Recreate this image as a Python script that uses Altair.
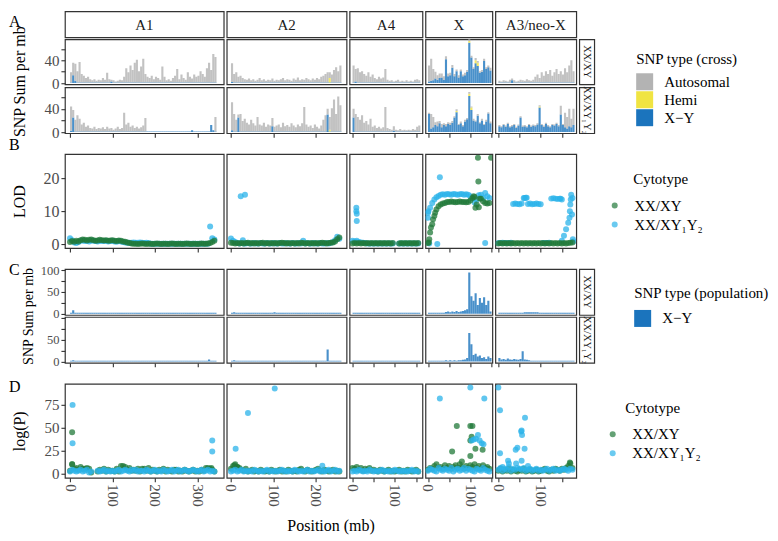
import altair as alt
import pandas as pd

FONT = "Liberation Serif"
CHROMS = ["A1", "A2", "A4", "X", "A3/neo-X"]
CYTOTYPES = ["XX/XY", "XX/XY₁Y₂"]
SNP_TYPES = ["Autosomal", "Hemi", "X−Y"]
SNP_COLORS = ["#b3b3b3", "#f0e442", "#1b74bd"]
CYTO_COLORS = ["#22793a", "#2bb3ea"]
BIN_MB = 5

X_DOMAIN = {"A1": [-12, 362], "A2": [-10, 272], "A4": [-7, 165], "X": [-6, 152], "A3/neo-X": [-7, 184]}
X_TICKS = {"A1": [0, 100, 200, 300], "A2": [0, 100, 200], "A4": [0, 50, 100, 150],
           "X": [0, 50, 100, 150], "A3/neo-X": [0, 50, 100, 150]}
PANEL_W = {"A1": 159, "A2": 120, "A4": 73, "X": 67, "A3/neo-X": 81}

# ---------------- A: SNP sum per mb (cross), 5-mb bins ----------------
A_AUTO_XY = {
    "A1": [18, 22, 30, 20, 36, 15, 12, 8, 10, 6, 4, 6, 3, 5, 4, 8, 5, 17, 6, 3, 4, 2, 3, 5, 4, 10, 25, 18, 30, 22,
           35, 40, 20, 28, 42, 15, 10, 8, 12, 6, 10, 8, 5, 28, 10, 4, 6, 3, 8, 12, 24, 6, 14, 8, 5, 18, 10, 7, 14, 10,
           12, 20, 15, 10, 25, 35, 22, 50, 45],
    "A2": [33, 15, 18, 10, 12, 8, 6, 5, 7, 4, 6, 3, 5, 8, 4, 6, 3, 5, 4, 7, 3, 5, 4, 6, 8, 4, 6, 5, 3, 7,
           5, 9, 4, 6, 5, 8, 6, 4, 7, 5, 8, 6, 10, 12, 15, 18, 10, 14, 22, 27, 20, 30],
    "A4": [30, 22, 25, 18, 20, 15, 12, 18, 10, 14, 8, 6, 10, 7, 9, 24, 5, 3, 4, 2, 3, 5, 2, 3, 2, 4, 2, 3, 2, 5, 6, 4],
    "X": [28, 39, 20, 12, 8, 8, 7, 6, 5, 5, 4, 5, 4, 3, 4, 3, 3, 4, 3, 4, 3, 3, 4, 3, 3, 3, 4, 3, 3, 5],
    "A3/neo-X": [3, 2, 4, 3, 2, 5, 3, 4, 2, 3, 5, 4, 3, 6, 4, 3, 5, 10, 14, 8, 18, 12, 20, 15, 22, 12, 18, 24, 15, 20,
                 14, 25, 18, 30, 39, 20],
}
A_XY_XY = {
    "A1": [1, 14, 4, 1, 1, 1, 1, 1, 1, 1, 1, 1, 1, 1, 1, 1, 1, 1, 1, 3, 1, 1, 1, 1, 1, 1, 1, 1, 1, 1,
           1, 1, 1, 1, 1, 1, 1, 1, 1, 1, 1, 1, 1, 1, 1, 1, 1, 1, 1, 1, 1, 1, 1, 1, 1, 1, 1, 1, 1, 1,
           1, 1, 1, 1, 1, 1, 1, 1, 1],
    "A2": [2, 1, 1, 1, 1, 1, 1, 1, 1, 1, 1, 1, 1, 1, 1, 1, 1, 1, 1, 1, 1, 1, 1, 1, 1, 1, 1, 1, 1, 1,
           1, 1, 1, 1, 1, 1, 1, 1, 1, 1, 1, 1, 1, 1, 1, 1, 1, 1, 1, 1, 1, 1],
    "A4": [1, 3, 1, 1, 1, 1, 1, 1, 1, 1, 1, 1, 1, 1, 1, 1, 1, 1, 1, 1, 1, 1, 1, 1, 1, 1, 1, 1, 1, 1, 1, 1],
    "X": [3, 4, 5, 8, 6, 9, 10, 6, 42, 12, 14, 27, 12, 21, 10, 21, 12, 14, 20, 71, 45, 25, 35, 30, 18, 20, 39, 25, 28, 22],
    "A3/neo-X": [1, 1, 1, 1, 1, 1, 5, 1, 1, 1, 1, 1, 1, 1, 1, 1, 1, 1, 1, 1, 1, 1, 1, 1, 1, 1, 1, 1, 1, 1,
                 1, 1, 1, 1, 1, 1],
}
A_HEMI_XY = {"A2": {46: 8}, "X": {19: 3, 22: 5, 23: 6}}

A_AUTO_Y1Y2 = {
    "A1": [42, 13, 20, 28, 22, 12, 15, 8, 10, 6, 5, 8, 4, 6, 5, 7, 4, 8, 5, 6, 3, 5, 8, 4, 6, 32, 12, 15, 8, 10,
           6, 8, 5, 7, 10, 23, 0, 0, 0, 0, 0, 0, 0, 0, 0, 0, 0, 0, 0, 0, 0, 0, 0, 0, 0, 0, 0, 0, 0, 0,
           0, 0, 0, 0, 0, 0, 0, 0, 25],
    "A2": [48, 30, 20, 5, 30, 18, 22, 15, 12, 20, 14, 10, 25, 12, 10, 15, 8, 12, 10, 14, 8, 10, 12, 7, 15, 9, 11, 8, 14, 10,
           7, 12, 9, 14, 42, 12, 8, 10, 6, 12, 8, 5, 10, 20, 28, 10, 22, 40, 55, 30, 60, 45],
    "A4": [15, 30, 25, 20, 28, 15, 18, 12, 22, 8, 10, 6, 8, 5, 7, 42, 6, 4, 3, 8, 3, 2, 4, 2, 3, 2, 3, 2, 4, 3, 8, 10],
    "X": [2, 25, 18, 5, 8, 4, 6, 3, 4, 3, 4, 3, 2, 3, 2, 3, 2, 3, 2, 3, 2, 3, 2, 3, 2, 3, 2, 3, 2, 3],
    "A3/neo-X": [2, 2, 2, 2, 2, 2, 2, 2, 2, 2, 2, 2, 2, 2, 2, 2, 2, 2, 2, 2, 2, 2, 2, 2, 2, 2, 2, 2, 2, 15,
                 2, 25, 20, 30, 15, 28],
}
A_XY_Y1Y2 = {
    "A1": [2, 25, 1, 1, 1, 1, 1, 1, 1, 1, 1, 1, 1, 1, 1, 1, 1, 1, 1, 1, 1, 1, 1, 1, 1, 1, 1, 1, 1, 1,
           1, 1, 1, 1, 1, 1, 1, 1, 1, 1, 1, 1, 1, 1, 1, 1, 1, 1, 1, 1, 1, 1, 1, 1, 1, 1, 1, 3, 1, 1,
           1, 1, 1, 1, 1, 1, 12, 3, 1],
    "A2": [3, 1, 1, 25, 1, 1, 1, 1, 1, 1, 1, 1, 1, 1, 1, 1, 1, 1, 1, 10, 1, 1, 1, 1, 1, 1, 1, 1, 1, 1,
           1, 1, 1, 1, 1, 1, 1, 1, 1, 1, 1, 1, 1, 1, 1, 30, 1, 1, 1, 1, 1, 1],
    "A4": [25, 1, 1, 1, 1, 1, 1, 1, 1, 1, 1, 1, 1, 1, 1, 1, 1, 1, 1, 2, 1, 1, 1, 1, 1, 1, 1, 1, 1, 1, 1, 1],
    "X": [31, 6, 8, 12, 10, 15, 8, 12, 10, 14, 12, 16, 25, 34, 12, 15, 10, 18, 22, 62, 38, 20, 18, 28, 15, 20, 12, 18, 32, 15],
    "A3/neo-X": [10, 8, 12, 9, 14, 8, 10, 12, 7, 11, 25, 9, 10, 8, 12, 9, 11, 10, 13, 42, 12, 9, 14, 10, 8, 12, 11, 14, 10, 30,
                 12, 8, 6, 10, 8, 12],
}
A_HEMI_Y1Y2 = {"A2": {46: 3}, "X": {13: 2, 19: 4, 20: 4}, "A3/neo-X": {19: 2}}

# ---------------- B: LOD, sampled every 5 mb, plus single markers ----------------
B_GREEN = {
    "A1": [0.6, 0.9, 0.7, 1.0, 0.8, 1.2, 1.4, 1.3, 1.1, 1.3, 1.4, 1.2, 1.0, 1.1, 1.3, 1.2, 1.1, 1.2, 1.0, 1.1,
           1.2, 1.0, 0.9, 1.1, 1.0, 0.8, 0.7, 0.5, 0.3, 0.2, 0.1, 0.1, 0.0, 0.1, 0.2, 0.1, 0.0, 0.1, 0.1, 0.0,
           0.1, 0.2, 0.1, 0.0, 0.1, 0.1, 0.0, 0.1, 0.2, 0.1, 0.0, 0.1, 0.1, 0.0, 0.1, 0.2, 0.1, 0.0, 0.1, 0.1,
           0.0, 0.1, 0.2, 0.1, 0.1, 0.2, 0.3, 0.6, 1.0],
    "A2": [0.4, 0.3, 0.2, 0.3, 0.2, 0.3, 0.2, 0.3, 0.4, 0.2, 0.3, 0.2, 0.3, 0.2, 0.3, 0.4, 0.2, 0.3, 0.2, 0.3,
           0.2, 0.3, 0.2, 0.3, 0.4, 0.3, 0.2, 0.3, 0.2, 0.3, 0.2, 0.3, 0.2, 0.4, 0.3, 0.2, 0.3, 0.2, 0.3, 0.2,
           0.3, 0.2, 0.3, 0.4, 0.3, 0.2, 0.3, 0.4, 0.5, 0.8, 1.5, 2.0],
    "A4": [0.2, 0.3, 0.2, 0.3, 0.2, 0.3, 0.2, 0.3, 0.2, 0.3, 0.2, 0.3, 0.2, 0.3, 0.2, 0.3, 0.2, 0.3, 0.2, 0.3,
           None, None, 0.2, 0.3, 0.2, 0.3, 0.2, 0.3, 0.2, 0.3, 0.2, 0.3],
    "X": [0.3, 3.5, 6.0, 8.5, 10.5, 11.5, 12.0, 12.3, 12.5, 12.8, 12.8, 12.9, 12.8, 12.7, 12.8, 12.9, 12.8, 12.8, 12.7, 12.8,
          13.2, 14.0, 14.3, 12.0, 11.2, 13.8, 13.0, 12.5, 12.3, 12.5],
    "A3/neo-X": [0.2, 0.3, 0.2, 0.3, 0.2, 0.3, 0.2, 0.3, 0.2, 0.3, 0.2, 0.3, 0.2, 0.3, 0.2, 0.3, 0.2, 0.3, 0.2, 0.3,
                 0.2, 0.3, 0.2, 0.3, 0.2, 0.3, 0.2, 0.3, 0.2, 0.3, 0.2, 0.3, 0.2, 0.3, 0.4, 0.5],
}
B_BLUE = {
    "A1": [1.8, 1.2, 0.5, 0.3, 0.6, 1.0, 1.1, 0.9, 1.0, 0.8, 1.1, 1.0, 0.9, 0.8, 1.0, 0.9, 0.9, 1.0, 0.8, 0.9,
           1.0, 0.8, 0.7, 0.9, 0.8, 0.6, 0.5, 0.4, 0.4, 0.4, 0.5, 0.4, 0.4, 0.5, 0.4, 0.3, 0.4, 0.3, 0.1, 0.1,
           0.1, 0.1, 0.1, 0.1, 0.1, 0.1, 0.1, 0.1, 0.1, 0.1, 0.1, 0.1, 0.1, 0.1, 0.1, 0.1, 0.1, 0.1, 0.1, 0.1,
           0.1, 0.1, 0.1, 0.1, 0.1, 0.1, 5.3, 1.8, 1.4],
    "A2": [1.7, 1.0, 0.6, 0.3, 0.2, 0.3, 0.2, 0.2, 0.3, 0.2, 0.2, 0.3, 0.2, 0.2, 0.3, 0.2, 0.2, 0.3, 0.2, 0.2,
           0.3, 0.2, 0.2, 0.3, 0.2, 0.2, 0.3, 0.2, 0.2, 0.3, 0.2, 0.2, 0.3, 0.2, 1.0, 0.2, 0.3, 0.2, 0.2, 0.3,
           0.2, 0.2, 0.3, 0.2, 0.2, 0.3, 0.2, 0.4, 0.6, 1.2, 2.2, 1.6],
    "A4": [1.0, 0.8, 1.0, 0.6, 0.5, 0.4, 0.3, 0.2, 0.2, 0.2, 0.2, 0.2, 0.2, 0.2, 0.2, 0.2, 0.2, 0.2, 0.2, 0.2,
           None, None, 0.2, 0.2, 0.2, 0.2, 0.2, 0.2, 0.2, 0.2, 0.2, 0.2],
    "X": [9.5, 11.0, 12.5, 13.5, 14.2, 14.6, 15.0, 15.1, 15.0, 15.2, 15.1, 15.0, 15.2, 15.1, 15.0, 15.1, 15.2, 15.0, 15.1, 15.0,
          14.5, 13.8, 12.6, 13.5, 14.8, 15.0, 14.0, 15.5, 14.5, 14.0],
    "A3/neo-X": [0.3, 0.3, 0.4, 0.3, 0.3, 0.3, 0.4, 12.2, 12.3, 12.2, 12.1, 12.3, 14.0, 14.1, 12.2, 12.3, 12.1, 12.2, 12.3, 12.2,
                 12.1, 0.3, 0.3, 0.3, 0.4, 13.8, 13.9, 13.8, 13.7, 13.8, 1.0, 2.5, 4.5, 6.5, 12.0, 14.0],
}
B_EXTRA_GREEN = {"X": [(2, 0.5), (3, 1.5), (7, 5.0), (12, 7.5), (17, 9.5), (118, 26.2), (149, 26.2), (119, 19.0),
                       (112, 11.0), (122, 13.8), (108, 14.5)]}
B_EXTRA_BLUE = {"A2": [(23, 14.5), (33, 15.0), (28, 1.2)],
                "A4": [(9, 11.0), (9, 10.0), (10, 9.2), (10, 7.0)],
                "X": [(28, 20.3), (135, 0.3), (22, 0.0), (3, 0.2), (0, 8.0), (1, 10.0)],
                "A3/neo-X": [(168, 8.0), (169, 10.0), (171, 13.5), (172, 15.0), (174, 9.0), (176, 1.5), (177, 0.8),
                             (147, 13.8), (150, 13.5), (62, 14.0), (67, 14.1)]}

# ---------------- C: SNP sum per mb (population, X−Y), 5-mb bins ----------------
C_XY_XY = {
    "A1": [2, 8, 2, 2, 2, 2, 2, 2, 2, 2, 2, 2, 2, 2, 2, 2, 2, 2, 2, 2, 2, 2, 2, 2, 2, 2, 2, 2, 2, 2,
           2, 2, 2, 2, 2, 2, 2, 2, 2, 2, 2, 2, 2, 2, 2, 2, 2, 2, 2, 2, 2, 2, 2, 2, 2, 2, 2, 2, 2, 2,
           2, 2, 2, 2, 2, 2, 2, 2, 2],
    "A2": [2, 3, 2, 2, 2, 2, 2, 2, 2, 2, 2, 2, 2, 2, 2, 2, 2, 2, 2, 2, 3, 2, 2, 2, 2, 2, 2, 2, 2, 2,
           2, 2, 2, 2, 2, 2, 2, 2, 2, 2, 2, 2, 2, 2, 2, 2, 2, 2, 2, 2, 2, 2],
    "A4": [2, 2, 2, 2, 2, 2, 2, 2, 2, 2, 2, 2, 2, 2, 2, 2, 2, 2, 2, 2, 2, 2, 2, 2, 2, 2, 2, 2, 2, 2, 2, 2],
    "X": [2, 2, 2, 2, 2, 2, 2, 2, 4, 5, 3, 5, 4, 6, 4, 5, 6, 8, 10, 95, 40, 30, 47, 20, 36, 25, 38, 20, 30, 5],
    "A3/neo-X": [2, 2, 2, 2, 2, 2, 2, 2, 2, 2, 2, 2, 3, 3, 3, 3, 3, 3, 3, 2, 2, 2, 2, 2, 2, 2, 2, 2, 2, 2,
                 2, 2, 2, 2, 2, 2],
}
C_XY_Y1Y2 = {
    "A1": [2, 3, 2, 2, 2, 2, 2, 2, 2, 2, 2, 2, 2, 2, 2, 2, 2, 2, 2, 2, 2, 2, 2, 2, 2, 2, 2, 2, 2, 2,
           2, 2, 2, 2, 2, 2, 2, 2, 2, 2, 2, 2, 2, 2, 2, 2, 2, 2, 2, 2, 2, 2, 2, 2, 2, 2, 2, 2, 2, 2,
           2, 2, 2, 2, 2, 5, 2, 2, 2],
    "A2": [2, 3, 2, 2, 2, 2, 2, 2, 2, 2, 2, 2, 2, 2, 2, 2, 2, 2, 2, 2, 2, 2, 2, 2, 2, 2, 2, 2, 2, 2,
           2, 2, 2, 2, 2, 2, 2, 2, 2, 2, 2, 2, 2, 2, 2, 28, 2, 2, 2, 2, 2, 2],
    "A4": [2, 2, 2, 2, 2, 2, 2, 2, 2, 2, 2, 2, 2, 2, 2, 2, 2, 2, 2, 2, 2, 2, 2, 2, 2, 2, 2, 2, 2, 2, 2, 2],
    "X": [2, 2, 2, 2, 2, 2, 2, 2, 3, 2, 3, 2, 3, 2, 3, 3, 4, 5, 8, 66, 40, 15, 18, 12, 14, 8, 10, 6, 12, 8],
    "A3/neo-X": [8, 5, 6, 4, 7, 5, 4, 6, 5, 4, 6, 24, 5, 4, 3, 2, 2, 2, 2, 2, 2, 2, 2, 2, 2, 2, 2, 2, 2, 2,
                 2, 2, 2, 2, 2, 2],
}

# ---------------- D: log(P), sampled every 5 mb, plus single markers ----------------
D_GREEN = {
    "A1": [3, 10, 5, 6, 4, 7, 5, 5, 6, 5, 1, None, None, 2, 4, 3, 5, 2, 4, 3, 3, 2, 5, 2, 8, 8, 7, 4, 6, 3,
           4, 3, 5, 2, 5, 5, 3, 6, 2, 4, 3, 2, 4, 3, 5, 2, 4, 3, 2, 4, 4, 2, 3, 2, 4, 3, 2, 3, 4, 2,
           3, 2, 4, 3, 6, 6, 5, 4, 2],
    "A2": [5, 8, 10, 7, 6, 4, 3, 5, 2, 3, 4, 2, 3, 2, 4, 3, 2, 3, 2, 4, 3, 2, 3, 4, 2, 3, 2, 4, 3, 2,
           3, 2, 4, 5, 3, 2, 4, 3, 2, 3, 4, 5, 3, 2, 4, 3, 2, 3, 4, 2, 3, 2],
    "A4": [6, 5, 7, 4, 6, 3, 5, 4, 6, 3, 4, 3, 2, 4, 3, 2, 3, 4, 2, 3, 2, 3, 4, 2, 3, 2, 4, 3, 2, 3, 4, 2],
    "X": [4, 6, 5, 8, 10, 6, 7, 5, 9, 6, 8, 5, 7, 9, 6, 10, 7, 5, 8, 6, 9, 7, 10, 6, 8, 5, 9, 6, 7, 5],
    "A3/neo-X": [3, 5, 2, 4, 3, 5, 2, 4, 3, 2, 4, 3, 5, 2, 3, 4, 2, 3, 4, 2, 3, 4, 5, 3, 2, 4, 3, 5, 4, 3,
                 5, 4, 6, 8, 11, 6],
}
D_BLUE = {
    "A1": [2, 4, 3, 2, 3, 4, 2, 3, 4, 1, 2, None, None, 3, 2, 3, 4, 2, 3, 2, 3, 2, 3, 4, 2, 3, 4, 3, 2, 4,
           3, 4, 2, 3, 3, 2, 4, 3, 2, 3, 4, 2, 3, 2, 4, 3, 2, 3, 4, 2, 3, 4, 2, 3, 4, 3, 2, 3, 4, 3,
           2, 3, 4, 2, 3, 4, 2, 3, 2],
    "A2": [2, 3, 4, 2, 3, 4, 2, 3, 2, 3, 2, 4, 3, 2, 3, 2, 3, 4, 2, 3, 2, 3, 2, 3, 4, 2, 3, 2, 3, 2,
           4, 3, 2, 3, 2, 3, 4, 2, 3, 2, 3, 4, 2, 3, 2, 3, 4, 2, 3, 4, 2, 3],
    "A4": [2, 3, 2, 4, 3, 2, 3, 2, 4, 3, 2, 3, 2, 3, 4, 2, 3, 2, 3, 2, 4, 3, 2, 3, 2, 3, 2, 3, 4, 2, 3, 2],
    "X": [3, 5, 4, 3, 2, 6, 4, 3, 5, 4, 3, 6, 2, 4, 5, 3, 4, 6, 3, 5, 4, 3, 2, 5, 4, 3, 6, 4, 3, 2],
    "A3/neo-X": [4, 6, 3, 5, 4, 7, 3, 5, 4, 6, 5, 4, 6, 3, 4, 5, 3, 4, 5, 3, 4, 3, 4, 5, 3, 4, 5, 3, 4, 3,
                 4, 5, 4, 3, 5, 4],
}
D_EXTRA_GREEN = {"A1": [(5, 45), (5, 10), (333, 6)],
                 "A2": [(8, 9), (15, 7)],
                 "X": [(68, 52), (100, 52), (105, 52), (57, 24), (80, 13), (100, 19), (103, 40), (100, 36),
                       (112, 27), (129, 26)],
                 "A3/neo-X": [(169, 12)]}
D_EXTRA_BLUE = {"A1": [(6, 75), (6, 33), (335, 36), (335, 24)],
                "A2": [(11, 27), (40, 66), (103, 93), (215, 8.5)],
                "X": [(28, 82), (100, 94), (133, 82), (103, 36), (108, 37), (113, 38), (118, 42), (122, 36),
                      (127, 33), (131, 32)],
                "A3/neo-X": [(0, 94), (4, 69), (4, 22), (23, 14), (41, 26), (45, 28), (54, 46), (56, 42), (55, 47),
                             (63, 61), (62, 27), (55, 14), (42, 11), (25, 11), (10, 7), (70, 8)]}


# ---------------- helpers ----------------
def stacked_bins(layers):
    rows = []
    n = len(layers[0][1])
    for i in range(n):
        x0 = i * BIN_MB
        base = 0
        for name, vals in layers:
            v = vals[i] if isinstance(vals, list) else vals.get(i, 0)
            if v > 0:
                rows.append({"x0": x0, "x1": x0 + BIN_MB, "y0": base, "y1": base + v, "type": name})
                base += v
    return pd.DataFrame(rows)


def points(grid_g, grid_b, extra_g, extra_b, blue_on_top):
    g = [(i * BIN_MB, v) for i, v in enumerate(grid_g) if v is not None] + extra_g
    b = [(i * BIN_MB, v) for i, v in enumerate(grid_b) if v is not None] + extra_b
    dg = pd.DataFrame(g, columns=["pos", "val"]).assign(cyto=CYTOTYPES[0])
    db = pd.DataFrame(b, columns=["pos", "val"]).assign(cyto=CYTOTYPES[1])
    return pd.concat([dg, db] if blue_on_top else [db, dg], ignore_index=True)


def xaxis(chrom, mode, title=None):
    if mode is None:
        return None
    kw = dict(values=X_TICKS[chrom], labels=(mode == "labels"), labelAngle=90,
              labelExpr="datum.value % 100 === 0 ? datum.label : ''",
              labelOverlap=False, labelFlush=False, labelFontSize=15)
    if title:
        kw.update(title=title, titleX=266, titleY=48, titleAlign="center", titleBaseline="middle",
                  titleAngle=0, titleFontSize=16)
    else:
        kw["title"] = None
    return alt.Axis(**kw)


def yaxis(first, ticks, label_expr, title, title_y, lsize, tsize, title_x):
    if not first:
        return None
    kw = dict(values=ticks, labelExpr=label_expr, labelOverlap=False, labelFlush=False, titleX=title_x,
              labelFontSize=lsize, titleFontSize=tsize)
    if title:
        kw["title"] = title
        if title_y is not None:
            kw["titleY"] = title_y
    else:
        kw["title"] = None
    return alt.Axis(**kw)


LETTER = dict(anchor="start", frame="group", orient="top", dx=-56, offset=0, fontSize=16, baseline="top")

A_LEGEND = alt.Legend(title="SNP type (cross)", orient="none", legendX=572, legendY=13, symbolType="square",
                      symbolSize=289, symbolStrokeWidth=0, symbolOpacity=1, rowPadding=1, titlePadding=6,
                      labelOffset=11)
C_LEGEND = alt.Legend(title="SNP type (population)", orient="none", legendX=570, legendY=17, symbolType="square",
                      symbolSize=289, symbolStrokeWidth=0, symbolOpacity=1, rowPadding=1, titlePadding=9,
                      labelOffset=11)
B_LEGEND = alt.Legend(title="Cytotype", orient="none", legendX=569, legendY=18, symbolType="circle",
                      symbolSize=36, symbolOpacity=0.7, symbolOffset=-26, labelOffset=12, rowPadding=3,
                      titlePadding=11)
D_LEGEND = alt.Legend(title="Cytotype", orient="none", legendX=561, legendY=17, symbolType="circle",
                      symbolSize=36, symbolOpacity=0.7, symbolOffset=-20, labelOffset=12, rowPadding=3,
                      titlePadding=11)


def with_props(ch, chrom, h, letter):
    props = dict(width=PANEL_W[chrom], height=h)
    if letter:
        props["title"] = alt.TitleParams(letter[0], dy=letter[1], **LETTER)
    return ch.properties(**props)


def bar_panel(df, chrom, h, ydom, yticks, ylab, ytitle, title_y, xmode, domain, colors, legend, letter=None,
              lsize=15, tsize=16, title_x=-37):
    first = chrom == CHROMS[0]
    ch = alt.Chart(df).mark_bar(opacity=0.8, clip=True, strokeWidth=0).encode(
        x=alt.X("x0:Q", scale=alt.Scale(domain=X_DOMAIN[chrom], nice=False, zero=False), axis=xaxis(chrom, xmode)),
        x2="x1:Q",
        y=alt.Y("y1:Q", scale=alt.Scale(domain=ydom, nice=False, zero=False),
                axis=yaxis(first, yticks, ylab, ytitle, title_y, lsize, tsize, title_x)),
        y2="y0:Q",
        color=alt.Color("type:N", scale=alt.Scale(domain=domain, range=colors),
                        legend=legend if first else None),
    )
    return with_props(ch, chrom, h, letter)


def point_panel(df, chrom, h, ydom, yticks, ylab, ytitle, xmode, legend, letter=None, xtitle=None,
                lsize=15, tsize=16, title_x=-37):
    first = chrom == CHROMS[0]
    ch = alt.Chart(df).mark_circle(size=36, opacity=0.75, clip=True).encode(
        x=alt.X("pos:Q", scale=alt.Scale(domain=X_DOMAIN[chrom], nice=False, zero=False),
                axis=xaxis(chrom, xmode, xtitle if first else None)),
        y=alt.Y("val:Q", scale=alt.Scale(domain=ydom, nice=False, zero=False),
                axis=yaxis(first, yticks, ylab, ytitle, None, lsize, tsize, title_x)),
        color=alt.Color("cyto:N", scale=alt.Scale(domain=CYTOTYPES, range=CYTO_COLORS),
                        legend=legend if first else None),
    )
    return with_props(ch, chrom, h, letter)


def header(chrom, h, letter=None):
    ch = alt.Chart(pd.DataFrame({"label": [chrom]})).mark_text(fontSize=15, color="#1a1a1a").encode(
        text="label:N", x=alt.value(PANEL_W[chrom] / 2), y=alt.value(h / 2 + 1))
    return with_props(ch, chrom, h, letter)


def row_strip(label, h):
    return alt.Chart(pd.DataFrame({"label": [label]})).mark_text(fontSize=10.5, angle=90, color="#1a1a1a").encode(
        text="label:N", x=alt.value(7.5), y=alt.value(h / 2)).properties(width=15, height=h)


def blank(w, h):
    return alt.Chart(pd.DataFrame({"v": [0]})).mark_point(opacity=0).encode(
        x=alt.value(0), y=alt.value(0)).properties(width=w, height=h, view=alt.ViewBackground(strokeOpacity=0))


def spacer_row(h):
    return [blank(PANEL_W[c], h) for c in CHROMS] + [blank(15, h)]


# ---------------- part A ----------------
HEAD_H = 26
A_H1, A_H2 = 45, 46
A_DOM, A_TICKS, A_LAB = [-2, 77], [0, 20, 40, 60], "datum.value % 40 === 0 ? datum.label : ''"
row_head = [header(c, HEAD_H, ("A", 19) if c == "A1" else None) for c in CHROMS] + [blank(15, HEAD_H)]
row_a1 = [bar_panel(stacked_bins([("X−Y", A_XY_XY[c]), ("Hemi", A_HEMI_XY.get(c, {})), ("Autosomal", A_AUTO_XY[c])]),
                    c, A_H1, A_DOM, A_TICKS, A_LAB, "SNP Sum per mb", 42, None,
                    SNP_TYPES, SNP_COLORS, A_LEGEND) for c in CHROMS] + [row_strip(CYTOTYPES[0], A_H1)]
row_a2 = [bar_panel(stacked_bins([("X−Y", A_XY_Y1Y2[c]), ("Hemi", A_HEMI_Y1Y2.get(c, {})), ("Autosomal", A_AUTO_Y1Y2[c])]),
                    c, A_H2, A_DOM, A_TICKS, A_LAB, None, None, "ticks",
                    SNP_TYPES, SNP_COLORS, None) for c in CHROMS] + [row_strip(CYTOTYPES[1], A_H2)]

# ---------------- part B ----------------
row_b = [point_panel(points(B_GREEN[c], B_BLUE[c], B_EXTRA_GREEN.get(c, []), B_EXTRA_BLUE.get(c, []), False),
                     c, 94, [-1.2, 27.3], [0, 10, 20], "datum.label", "LOD", "ticks", B_LEGEND,
                     ("B", -1) if c == "A1" else None, lsize=16) for c in CHROMS] + [blank(15, 94)]

# ---------------- part C ----------------
C_DOM, C_TICKS = [-3, 103], [0, 25, 50, 75, 100]
row_c1 = [bar_panel(stacked_bins([("X−Y", C_XY_XY[c])]), c, 46, C_DOM, C_TICKS,
                    "datum.value % 50 === 0 ? datum.label : ''", "SNP Sum per mb", (46 + 2 + 46) / 2, None,
                    ["X−Y"], [SNP_COLORS[2]], C_LEGEND, ("C", 14) if c == "A1" else None,
                    lsize=12.5, tsize=14, title_x=-29) for c in CHROMS] + [row_strip(CYTOTYPES[0], 46)]
row_c2 = [bar_panel(stacked_bins([("X−Y", C_XY_Y1Y2[c])]), c, 46, C_DOM, C_TICKS,
                    "datum.value % 50 === 0 && datum.value < 100 ? datum.label : ''", None, None, "ticks",
                    ["X−Y"], [SNP_COLORS[2]], None, lsize=12.5, tsize=14, title_x=-29) for c in CHROMS] \
         + [row_strip(CYTOTYPES[1], 46)]

# ---------------- part D ----------------
row_d = [point_panel(points(D_GREEN[c], D_BLUE[c], D_EXTRA_GREEN.get(c, []), D_EXTRA_BLUE.get(c, []), True),
                     c, 94, [-4.7, 98], [0, 25, 50, 75], "datum.label", "log(P)", "labels", D_LEGEND,
                     ("D", 11) if c == "A1" else None, "Position (mb)") for c in CHROMS] + [blank(15, 94)]

cells = (row_head + spacer_row(2) + row_a1 + spacer_row(3) + row_a2 + spacer_row(21) + row_b + spacer_row(21)
         + row_c1 + spacer_row(2) + row_c2 + spacer_row(21) + row_d)

chart = alt.concat(*cells, columns=6, spacing={"row": 0, "column": 3}, bounds="flush").resolve_scale(
    color="independent").properties(padding=0)

chart = chart.configure_view(stroke="#333333", strokeWidth=1.2).configure_axis(
    labelFont=FONT, titleFont=FONT, labelColor="#4d4d4d", titleColor="black",
    tickColor="#333333", tickSize=4, tickWidth=1.1, domain=False, grid=False, titleFontWeight="normal",
    labelPadding=2).configure_legend(
    titleFont=FONT, labelFont=FONT, titleFontSize=15, labelFontSize=15, titleFontWeight="normal",
    titleColor="black", labelColor="black").configure_title(
    font=FONT, fontWeight="normal", color="black").configure_text(font=FONT)

chart.save("out.html", embed_options={"renderer": "svg", "actions": False})
